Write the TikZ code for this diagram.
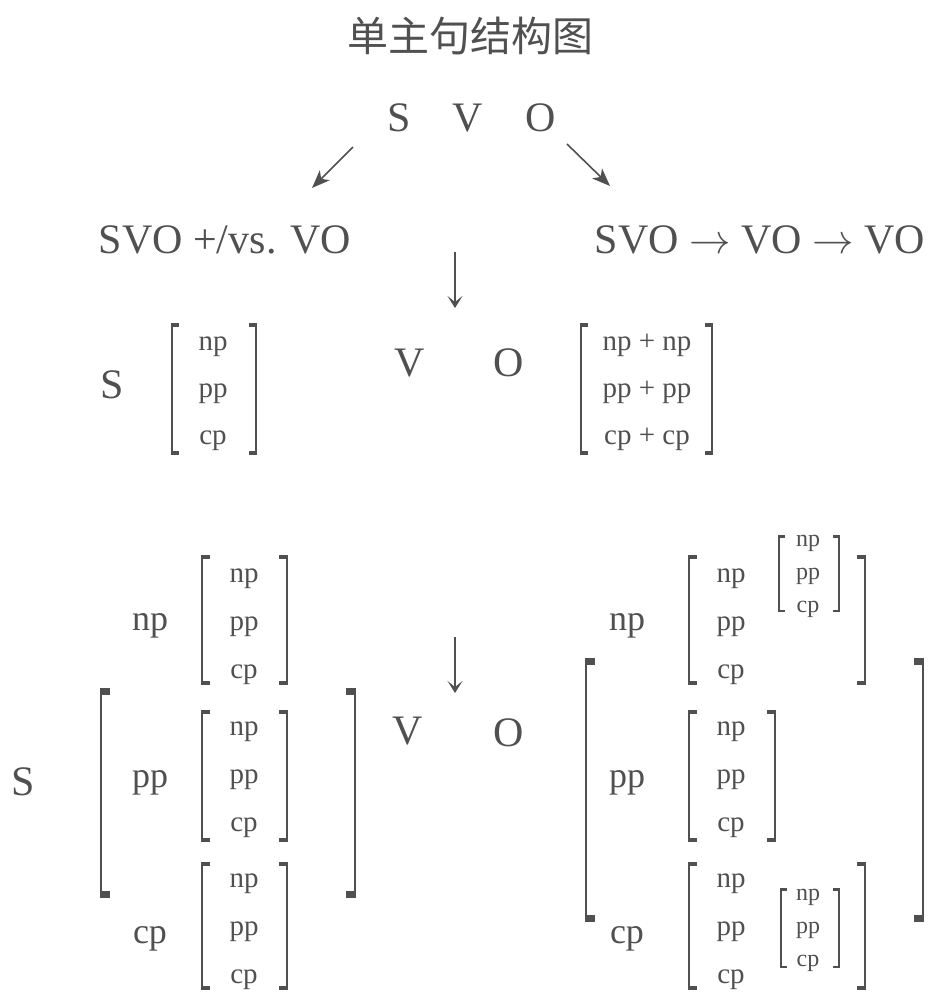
\documentclass[tikz,border=0pt]{standalone}
\usepackage{fontspec}
\setmainfont{Liberation Serif}
\newfontfamily\cjk{Noto Sans CJK SC}
\usetikzlibrary{arrows.meta}
\definecolor{ink}{HTML}{505050}
\tikzset{
    headtxt/.style = {font=\cjk\fontsize{20.5}{20.5}\selectfont,inner sep=0,text=ink},
    bigtxt/.style = {font=\fontsize{21}{21}\selectfont,anchor=base,inner sep=0,text=ink},
    labtxt/.style = {font=\fontsize{18}{18}\selectfont,anchor=base,inner sep=0,text=ink},
    itemtxt/.style = {font=\fontsize{14.5}{14.5}\selectfont,anchor=base,inner sep=0,text=ink},
    tinytxt/.style = {font=\fontsize{12}{12}\selectfont,anchor=base,inner sep=0,text=ink}
}
\tikzset{
    slantarr/.style = {draw=ink,line width=0.8pt,-{Stealth[length=9pt,width=7pt,inset=2.5pt]}},
    downarr/.style = {draw=ink,line width=0.7pt,-{Stealth[length=6pt,width=7.5pt,inset=3pt]}},
    brkline/.style = {draw=ink,line width=0.9pt}
}
\begin{document}
\begin{tikzpicture}[x=0.5pt,y=-0.5pt]
    \useasboundingbox (0,0) rectangle (940,992);
    % bracket pair: left x, right x, top, bottom, serif length, serif thickness
    \newcommand\brk[6]{%
        \draw[brkline] (#1,#3) -- (#1,#4);
        \draw[brkline] (#2,#3) -- (#2,#4);
        \fill[ink] (#1-1,#3) rectangle (#1-1+#5,#3+#6);
        \fill[ink] (#1-1,#4) rectangle (#1-1+#5,#4-#6);
        \fill[ink] (#2+1,#3) rectangle (#2+1-#5,#3+#6);
        \fill[ink] (#2+1,#4) rectangle (#2+1-#5,#4-#6);
    }
    % Title
    \node[headtxt] (head) at (470,36) {单主句结构图};
    % Top
    \foreach \n/\x in {S/399,V/468,O/541}
        \node[bigtxt] (top\n) at (\x,131) {\n};
    \node[bigtxt] (alt) at (225,253) {SVO +/vs. VO};
    \node[bigtxt] (seq) at (760,253) {SVO $\rightarrow$ VO $\rightarrow$ VO};
    % Arrows
    \coordinate (la) at (353,147);
    \coordinate (lb) at (312,188);
    \coordinate (ra) at (567,144);
    \coordinate (rb) at (610,186);
    \coordinate (da) at (455,252);
    \coordinate (db) at (455,308);
    \coordinate (ea) at (455,637);
    \coordinate (eb) at (455,693);
    \draw[slantarr] (la) -- (lb);
    \draw[slantarr] (ra) -- (rb);
    \draw[downarr] (da) -- (db);
    \draw[downarr] (ea) -- (eb);
    % Middle row
    \node[bigtxt] (midS) at (112,398) {S};
    \node[bigtxt] (midV) at (410,376) {V};
    \node[bigtxt] (midO) at (509,376) {O};
    \foreach \t/\y in {np/350,pp/397,cp/444} {
        \node[itemtxt] (s\t) at (213,\y) {\t};
        \node[itemtxt] (o\t) at (647,\y) {\t\ + \t};
    }
    \brk{172}{256}{323}{455}{8}{4}
    \brk{581}{712}{323}{455}{8}{4}
    % Bottom row
    \node[bigtxt] (botS) at (23,795) {S};
    \node[bigtxt] (botV) at (408,744) {V};
    \node[bigtxt] (botO) at (509,746) {O};
    \foreach \t/\y in {np/630,pp/787,cp/943} {
        \node[labtxt] (sl\t) at (150,\y) {\t};
        \node[labtxt] (ol\t) at (627,\y) {\t};
    }
    \foreach \g/\y in {np/582,pp/735,cp/887}
        \foreach \t/\d in {np/0,pp/48,cp/96} {
            \node[itemtxt] (s\g\t) at (244,\y+\d) {\t};
            \node[itemtxt] (o\g\t) at (731,\y+\d) {\t};
        }
    \foreach \g/\y in {a/546,b/900}
        \foreach \t/\d in {np/0,pp/33,cp/66}
            \node[tinytxt] (t\g\t) at (808,\y+\d) {\t};
    % Brackets
    \brk{101}{355}{688}{898}{10}{7}
    \brk{586}{923}{658}{922}{10}{7}
    \foreach \t/\b in {555/685,710/842,862/990} {
        \brk{202}{287}{\t}{\b}{9}{4}
    }
    \brk{689}{865}{555}{685}{9}{4}
    \brk{689}{775}{710}{842}{9}{4}
    \brk{689}{865}{862}{990}{9}{4}
    \brk{779}{839}{535}{612}{7}{2.5}
    \brk{781}{839}{888}{968}{7}{2.5}
\end{tikzpicture}
\end{document}
